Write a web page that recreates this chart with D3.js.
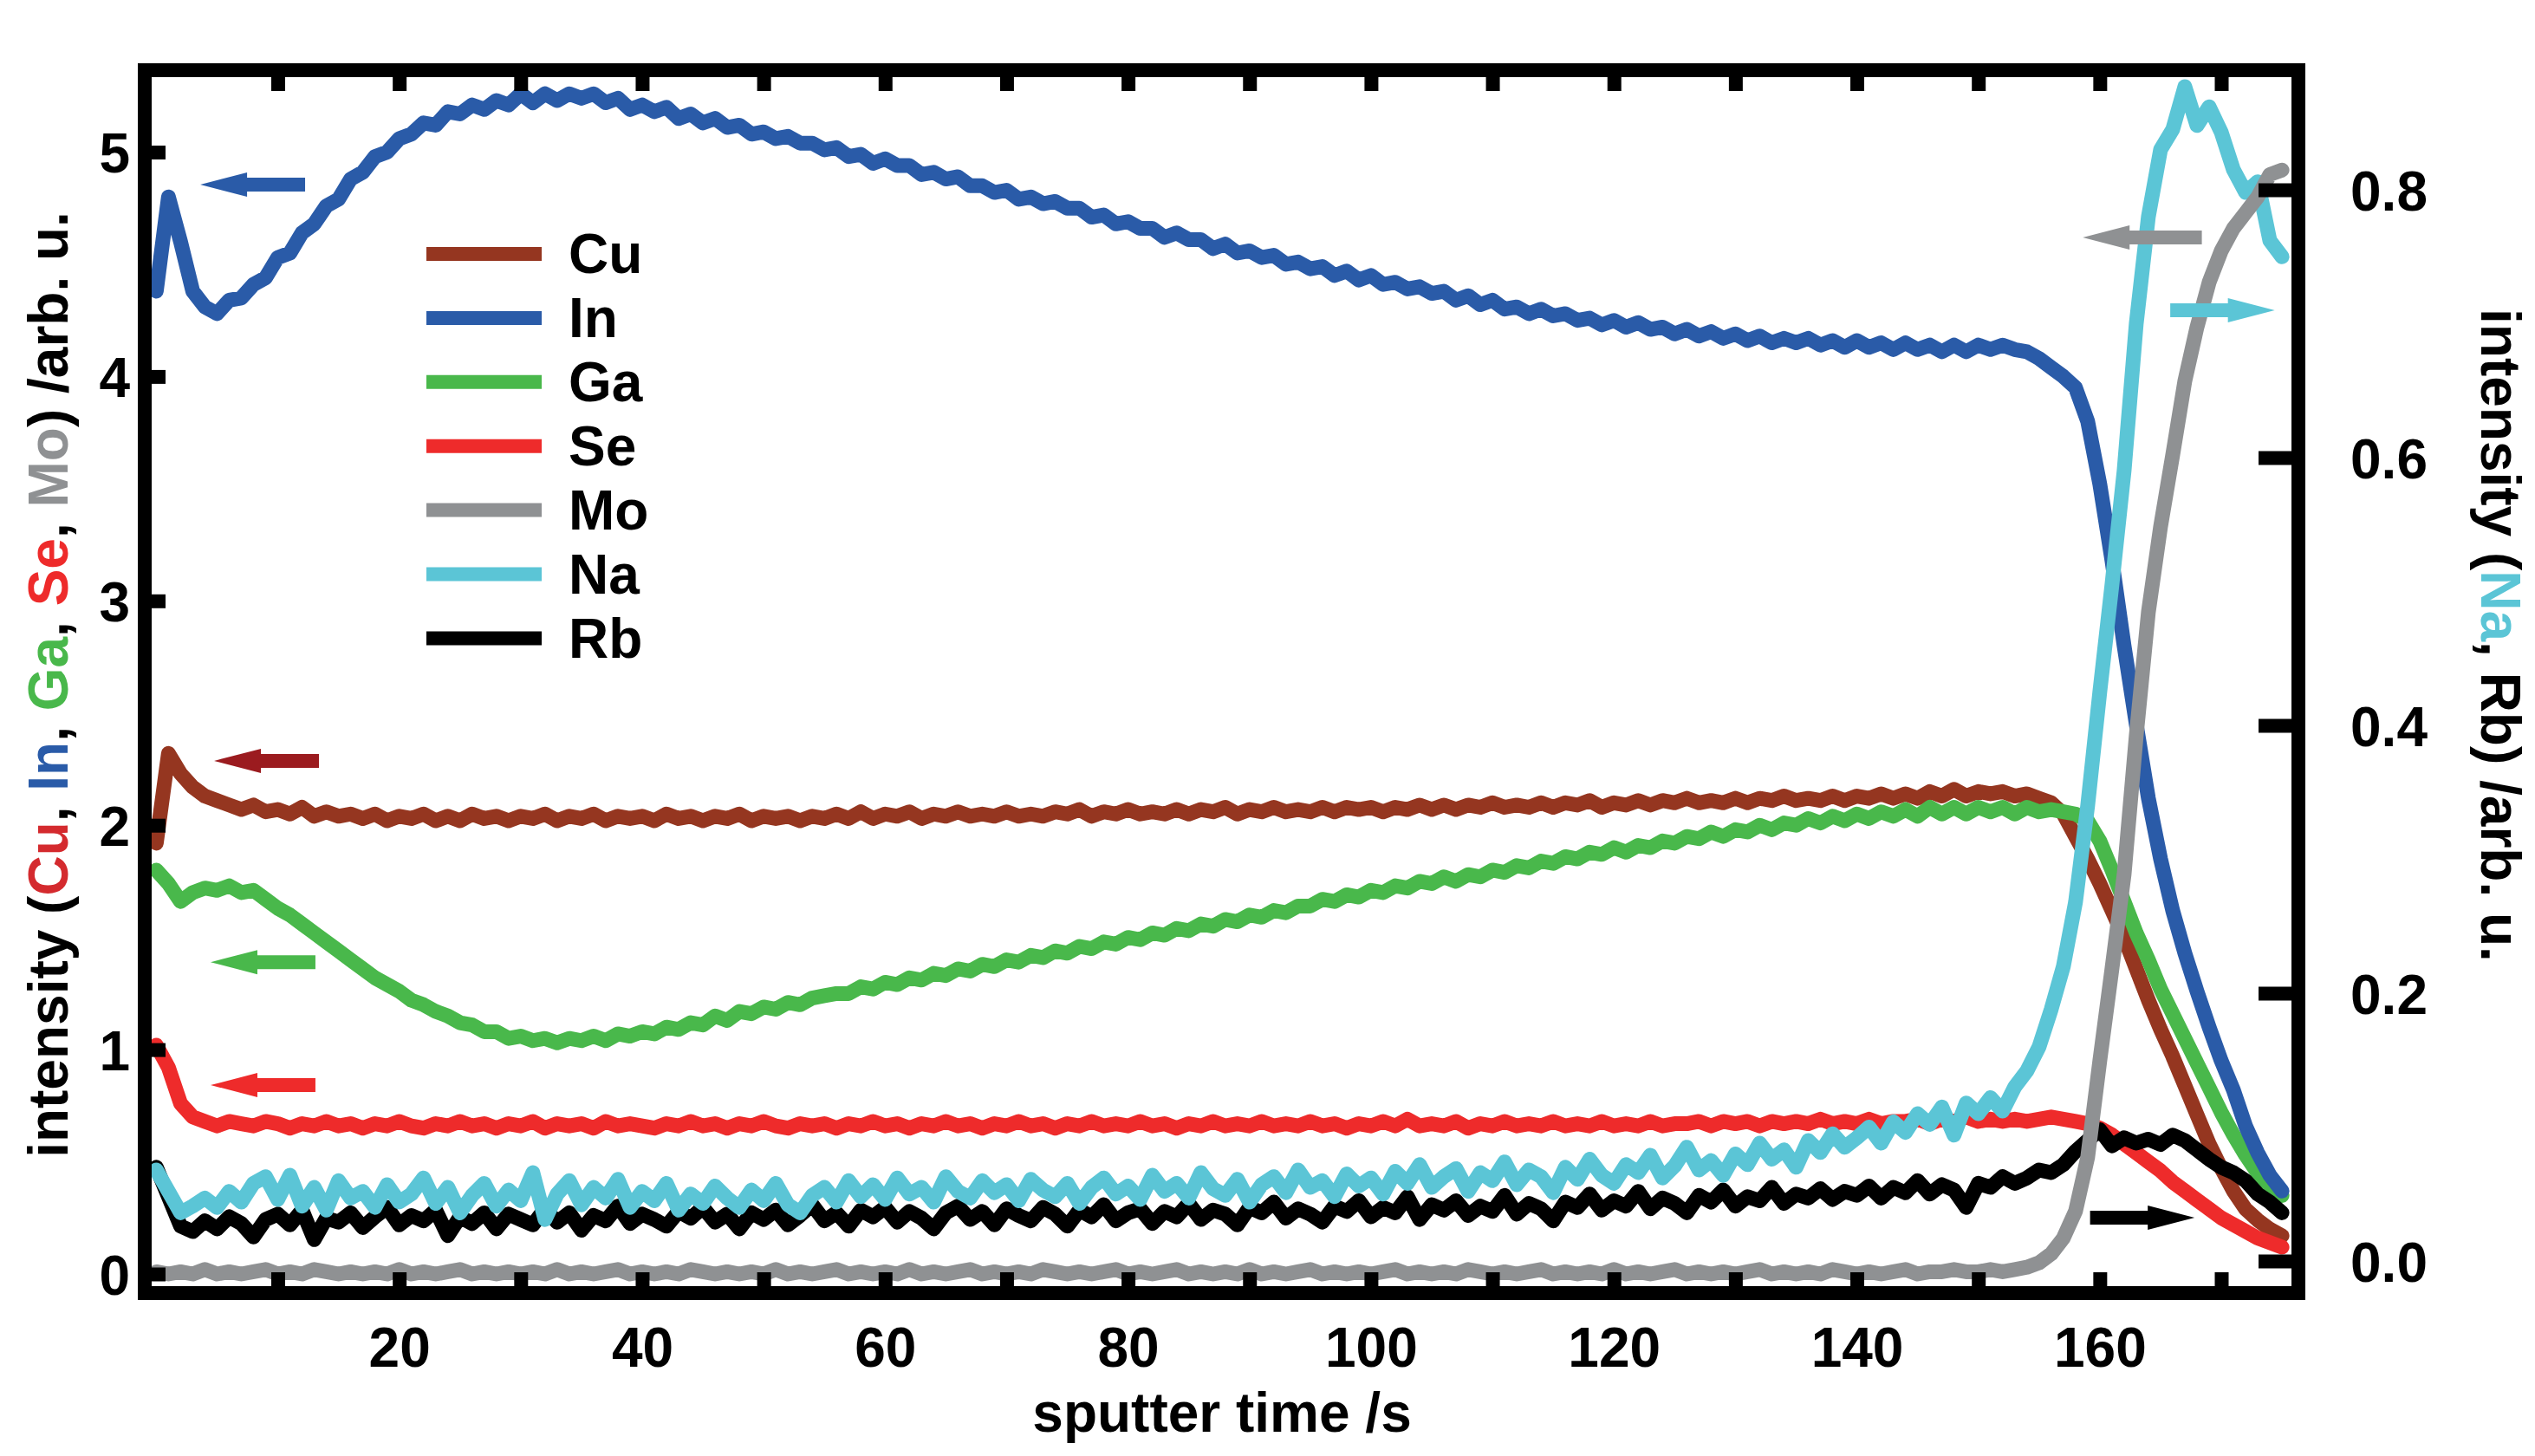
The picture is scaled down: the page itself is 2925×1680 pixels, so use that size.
<!DOCTYPE html>
<html><head><meta charset="utf-8">
<script src="https://cdn.jsdelivr.net/npm/d3@7"></script>
<style>
html,body{margin:0;padding:0;background:#fff;}
svg{display:block;}
text{font-family:"Liberation Sans",Arial,Helvetica,sans-serif;font-weight:bold;white-space:pre;}
</style>
</head><body>
<svg id="chart" width="2925" height="1680"></svg>
<script>
// ---------------- data ----------------
const sputterTime = d3.range(0, 176); // s, 1 s sampling

const cu = [1.92,2.32,2.23,2.17,2.13,2.11,2.09,2.07,2.09,2.06,
2.07,2.05,2.08,2.04,2.06,2.04,2.05,2.03,2.05,2.02,
2.04,2.03,2.05,2.02,2.04,2.02,2.05,2.03,2.04,2.02,
2.04,2.03,2.05,2.02,2.04,2.03,2.05,2.02,2.04,2.03,
2.04,2.02,2.05,2.03,2.04,2.02,2.04,2.03,2.05,2.02,
2.04,2.03,2.04,2.02,2.04,2.03,2.05,2.03,2.06,2.03,
2.05,2.04,2.06,2.03,2.05,2.04,2.06,2.04,2.05,2.04,
2.06,2.04,2.05,2.04,2.06,2.05,2.07,2.04,2.06,2.05,
2.07,2.05,2.06,2.05,2.07,2.05,2.07,2.06,2.08,2.05,
2.07,2.06,2.08,2.06,2.07,2.06,2.08,2.06,2.08,2.07,
2.08,2.06,2.08,2.07,2.09,2.07,2.09,2.07,2.09,2.08,
2.10,2.08,2.09,2.08,2.10,2.08,2.10,2.09,2.11,2.08,
2.10,2.09,2.11,2.09,2.11,2.10,2.12,2.10,2.11,2.10,
2.12,2.10,2.12,2.11,2.13,2.11,2.12,2.11,2.13,2.11,
2.13,2.12,2.14,2.12,2.14,2.12,2.15,2.13,2.16,2.13,
2.15,2.14,2.15,2.13,2.14,2.12,2.10,2.05,1.95,1.85,
1.74,1.62,1.50,1.36,1.22,1.09,0.97,0.84,0.71,0.58,
0.47,0.37,0.29,0.24,0.20,0.17];

const indium = [4.38,4.80,4.60,4.38,4.31,4.28,4.34,4.35,4.41,4.44,
4.53,4.55,4.64,4.68,4.76,4.79,4.88,4.91,4.98,5.00,
5.06,5.08,5.13,5.12,5.18,5.17,5.21,5.19,5.23,5.21,
5.26,5.22,5.26,5.23,5.26,5.24,5.26,5.22,5.24,5.19,
5.21,5.18,5.20,5.15,5.17,5.13,5.15,5.11,5.12,5.08,
5.09,5.06,5.07,5.04,5.04,5.01,5.02,4.98,4.99,4.95,
4.97,4.94,4.94,4.90,4.91,4.88,4.89,4.85,4.85,4.82,
4.83,4.79,4.80,4.77,4.78,4.75,4.75,4.71,4.72,4.68,
4.69,4.66,4.66,4.62,4.64,4.61,4.61,4.57,4.59,4.55,
4.56,4.53,4.54,4.50,4.51,4.48,4.49,4.45,4.47,4.43,
4.45,4.41,4.42,4.39,4.40,4.37,4.38,4.34,4.36,4.32,
4.34,4.30,4.31,4.28,4.30,4.27,4.28,4.25,4.26,4.23,
4.25,4.22,4.24,4.21,4.22,4.19,4.21,4.18,4.20,4.17,
4.19,4.16,4.18,4.15,4.17,4.15,4.17,4.14,4.16,4.13,
4.16,4.13,4.15,4.12,4.15,4.12,4.14,4.11,4.14,4.11,
4.14,4.12,4.14,4.12,4.11,4.08,4.04,4.00,3.95,3.80,
3.52,3.18,2.80,2.45,2.12,1.85,1.62,1.43,1.26,1.10,
0.95,0.82,0.66,0.54,0.44,0.37];

const ga = [1.80,1.74,1.66,1.70,1.72,1.71,1.73,1.70,1.71,1.67,
1.63,1.60,1.56,1.52,1.48,1.44,1.40,1.36,1.32,1.29,
1.26,1.22,1.20,1.17,1.15,1.12,1.11,1.08,1.08,1.05,
1.06,1.04,1.05,1.03,1.05,1.04,1.06,1.04,1.07,1.06,
1.08,1.07,1.10,1.09,1.12,1.11,1.15,1.13,1.17,1.16,
1.19,1.18,1.21,1.20,1.23,1.24,1.25,1.25,1.28,1.27,
1.30,1.29,1.32,1.31,1.34,1.33,1.36,1.35,1.38,1.37,
1.40,1.39,1.42,1.41,1.44,1.43,1.46,1.45,1.48,1.47,
1.50,1.49,1.52,1.51,1.54,1.53,1.56,1.55,1.58,1.57,
1.60,1.59,1.62,1.61,1.64,1.64,1.67,1.66,1.69,1.68,
1.71,1.70,1.73,1.72,1.75,1.74,1.77,1.75,1.78,1.77,
1.80,1.79,1.82,1.81,1.84,1.83,1.86,1.85,1.88,1.87,
1.90,1.88,1.91,1.90,1.93,1.92,1.95,1.94,1.97,1.95,
1.98,1.97,2.00,1.98,2.01,2.00,2.03,2.01,2.04,2.02,
2.05,2.03,2.06,2.04,2.07,2.04,2.08,2.05,2.08,2.05,
2.08,2.06,2.08,2.05,2.08,2.06,2.07,2.06,2.05,2.02,
1.93,1.80,1.66,1.52,1.40,1.27,1.16,1.05,0.94,0.83,
0.72,0.62,0.53,0.45,0.39,0.35];

const se = [1.02,0.92,0.76,0.70,0.68,0.66,0.68,0.67,0.66,0.68,
0.67,0.65,0.67,0.66,0.68,0.66,0.67,0.65,0.67,0.66,
0.68,0.66,0.65,0.67,0.66,0.68,0.66,0.67,0.65,0.67,
0.66,0.68,0.65,0.67,0.66,0.67,0.65,0.68,0.66,0.67,
0.66,0.65,0.67,0.66,0.68,0.66,0.67,0.65,0.67,0.66,
0.68,0.66,0.65,0.67,0.66,0.67,0.65,0.67,0.66,0.68,
0.66,0.67,0.65,0.67,0.66,0.68,0.66,0.67,0.65,0.67,
0.66,0.68,0.66,0.67,0.65,0.67,0.66,0.68,0.66,0.67,
0.66,0.68,0.66,0.67,0.65,0.67,0.66,0.68,0.66,0.67,
0.66,0.68,0.66,0.67,0.66,0.68,0.66,0.67,0.65,0.67,
0.66,0.68,0.66,0.69,0.66,0.67,0.66,0.68,0.65,0.67,
0.66,0.68,0.66,0.67,0.66,0.68,0.66,0.67,0.66,0.68,
0.66,0.67,0.66,0.68,0.66,0.67,0.67,0.68,0.66,0.68,
0.67,0.68,0.66,0.68,0.67,0.68,0.67,0.69,0.67,0.68,
0.67,0.69,0.67,0.68,0.68,0.69,0.67,0.69,0.68,0.70,
0.68,0.69,0.68,0.69,0.68,0.69,0.70,0.69,0.68,0.67,
0.65,0.62,0.58,0.54,0.50,0.46,0.41,0.37,0.33,0.29,
0.25,0.22,0.19,0.16,0.14,0.12];

const mo = [0.01,0.00,0.01,0.00,0.02,0.00,0.01,0.00,0.01,0.02,
0.00,0.01,0.00,0.02,0.01,0.00,0.01,0.00,0.01,0.00,
0.02,0.00,0.01,0.00,0.01,0.02,0.00,0.01,0.00,0.01,
0.00,0.01,0.00,0.02,0.00,0.01,0.00,0.01,0.02,0.00,
0.01,0.00,0.01,0.00,0.02,0.01,0.00,0.01,0.00,0.01,
0.00,0.02,0.00,0.01,0.00,0.01,0.02,0.00,0.01,0.00,
0.01,0.00,0.02,0.00,0.01,0.00,0.01,0.02,0.00,0.01,
0.00,0.01,0.00,0.02,0.01,0.00,0.01,0.00,0.01,0.02,
0.00,0.01,0.00,0.01,0.02,0.00,0.01,0.00,0.01,0.00,
0.02,0.00,0.01,0.00,0.01,0.02,0.00,0.01,0.00,0.01,
0.00,0.01,0.02,0.00,0.01,0.00,0.01,0.00,0.02,0.01,
0.00,0.01,0.00,0.01,0.02,0.00,0.01,0.00,0.01,0.00,
0.02,0.00,0.01,0.00,0.01,0.02,0.00,0.01,0.00,0.01,
0.00,0.01,0.02,0.00,0.01,0.00,0.01,0.00,0.02,0.01,
0.00,0.01,0.00,0.01,0.02,0.00,0.01,0.01,0.02,0.01,
0.01,0.02,0.01,0.02,0.03,0.05,0.09,0.16,0.28,0.52,
0.95,1.36,1.78,2.40,2.95,3.33,3.65,3.98,4.22,4.42,
4.56,4.66,4.73,4.80,4.90,4.92];

const na = [0.068,0.052,0.036,0.041,0.047,0.040,0.052,0.044,0.058,0.063,
0.046,0.064,0.041,0.055,0.038,0.060,0.047,0.052,0.040,0.057,
0.044,0.050,0.062,0.043,0.055,0.036,0.049,0.058,0.041,0.053,
0.045,0.066,0.031,0.050,0.060,0.042,0.055,0.047,0.061,0.040,
0.052,0.045,0.058,0.038,0.050,0.043,0.056,0.047,0.040,0.053,
0.045,0.058,0.042,0.036,0.049,0.055,0.044,0.060,0.048,0.057,
0.046,0.062,0.050,0.055,0.044,0.063,0.052,0.047,0.060,0.051,
0.057,0.045,0.061,0.053,0.048,0.058,0.043,0.055,0.062,0.050,
0.056,0.046,0.064,0.052,0.058,0.047,0.066,0.054,0.049,0.061,
0.044,0.057,0.063,0.051,0.068,0.055,0.060,0.048,0.065,0.056,
0.062,0.050,0.067,0.058,0.072,0.055,0.063,0.069,0.052,0.066,
0.060,0.074,0.057,0.068,0.063,0.051,0.070,0.061,0.076,0.064,
0.058,0.072,0.066,0.079,0.062,0.071,0.085,0.068,0.075,0.064,
0.080,0.072,0.088,0.076,0.083,0.070,0.090,0.081,0.095,0.085,
0.092,0.100,0.088,0.104,0.096,0.110,0.102,0.115,0.094,0.118,
0.110,0.122,0.112,0.130,0.142,0.160,0.188,0.220,0.268,0.340,
0.425,0.505,0.590,0.700,0.780,0.830,0.845,0.877,0.848,0.862,
0.843,0.815,0.798,0.806,0.762,0.750];

const rb = [0.070,0.048,0.026,0.022,0.030,0.024,0.033,0.028,0.018,0.031,
0.035,0.027,0.038,0.016,0.032,0.029,0.036,0.025,0.033,0.040,
0.027,0.034,0.030,0.038,0.019,0.033,0.028,0.036,0.024,0.035,
0.031,0.027,0.039,0.029,0.036,0.023,0.034,0.030,0.041,0.028,
0.035,0.031,0.026,0.037,0.032,0.040,0.029,0.035,0.024,0.036,
0.031,0.038,0.027,0.034,0.042,0.030,0.036,0.026,0.038,0.033,
0.040,0.029,0.037,0.032,0.024,0.036,0.041,0.031,0.037,0.027,
0.039,0.034,0.030,0.040,0.035,0.026,0.038,0.033,0.042,0.030,
0.036,0.039,0.028,0.037,0.033,0.043,0.031,0.038,0.035,0.027,
0.040,0.036,0.044,0.032,0.039,0.035,0.029,0.041,0.037,0.045,
0.033,0.040,0.036,0.048,0.031,0.042,0.038,0.045,0.034,0.041,
0.037,0.049,0.035,0.043,0.039,0.030,0.044,0.040,0.050,0.038,
0.045,0.041,0.052,0.039,0.047,0.043,0.036,0.049,0.044,0.053,
0.041,0.048,0.045,0.055,0.043,0.050,0.047,0.054,0.046,0.052,
0.049,0.056,0.047,0.055,0.051,0.060,0.050,0.057,0.053,0.040,
0.058,0.055,0.063,0.058,0.062,0.068,0.066,0.072,0.082,0.090,
0.098,0.086,0.092,0.088,0.091,0.087,0.094,0.090,0.083,0.076,
0.070,0.066,0.060,0.050,0.044,0.036];

const seriesNames  = ["Cu", "In", "Ga", "Se", "Mo", "Na", "Rb"];
const seriesValues = [cu, indium, ga, se, mo, na, rb];
const seriesAxis   = ["left", "left", "left", "left", "left", "right", "right"];
const seriesColors = ["#953620", "#2a5ba8", "#49b84b", "#ee2b2b", "#8f9193", "#5bc5d6", "#000000"];
const drawOrder    = ["Cu", "Ga", "In", "Se", "Rb", "Na", "Mo"];

const xTicks      = [10,20,30,40,50,60,70,80,90,100,110,120,130,140,150,160,170];
const xTickLabels = [20,40,60,80,100,120,140,160];
const yLeftTicks  = [0,1,2,3,4,5];
const yRightTicks = [0,0.2,0.4,0.6,0.8];

// annotation arrows
const arrowNames = ["In", "Cu", "Ga", "Se", "Mo", "Na", "Rb"];
const arrowTail  = [12.25, 13.39, 13.1, 13.1, 168.4, 165.8, 159.2];
const arrowTip   = [3.62, 4.76, 4.47, 4.47, 158.6, 174.4, 167.8];
const arrowValue = [4.855, 2.287, 1.39, 0.842, 4.62, 0.710, 0.0324];
const arrowAxis  = ["left","left","left","left","left","right","right"];
const arrowColors = ["#2a5ba8", "#9b1b1f", "#49b84b", "#ee2b2b", "#8f9193", "#5bc5d6", "#000000"];

const leftTitleParts  = [["intensity (", "#000"], ["Cu", "#d42a2e"], [", ", "#000"], ["In", "#2a5ba8"], [", ", "#000"], ["Ga", "#49b84b"], [", ", "#000"], ["Se", "#ee2b2b"], [", ", "#000"], ["Mo", "#8f9193"], [") /arb. u.", "#000"]];
const rightTitleParts = [["intensity (", "#000"], ["Na", "#5bc5d6"], [", Rb) /arb. u.", "#000"]];
const xTitle = "sputter time /s";

// ---------------- layout ----------------
const svg = d3.select("#chart");
const inner = {left: 175, right: 2644, top: 89, bottom: 1484};
const frameW = 16;
const fontSize = 64;

const x = d3.scaleLinear().domain([10, 170]).range([320.5, 2563]);
const yL = d3.scaleLinear().domain([0, 5]).range([1470, 175.5]);
const yR = d3.scaleLinear().domain([0, 0.8]).range([1455, 219]);

svg.append("rect").attr("width", 2925).attr("height", 1680).attr("fill", "#fff");

// ---------------- data lines ----------------
const gLines = svg.append("g");
drawOrder.forEach(name => {
  const i = seriesNames.indexOf(name);
  const vals = seriesValues[i];
  const yS = seriesAxis[i] === "left" ? yL : yR;
  const n = Math.min(vals.length, sputterTime.length);
  const pts = d3.range(n).map(k => [sputterTime[k], vals[k]]);
  const line = d3.line().x(d => x(d[0])).y(d => yS(d[1]));
  gLines.append("path")
    .attr("d", line(pts))
    .attr("fill", "none")
    .attr("stroke", seriesColors[i])
    .attr("stroke-width", 17)
    .attr("stroke-linejoin", "round")
    .attr("stroke-linecap", "round");
});

// ---------------- arrows ----------------
const gArr = svg.append("g");
arrowNames.forEach((nm, i) => {
  const yS = arrowAxis[i] === "left" ? yL : yR;
  const x1 = x(arrowTail[i]), x2 = x(arrowTip[i]), yy = yS(arrowValue[i]);
  const dir = Math.sign(x2 - x1);
  const headLen = 54, headHalf = 14, shaftHalf = 8;
  const xb = x2 - dir * headLen;
  const pts = [[x1, yy - shaftHalf], [xb, yy - shaftHalf], [xb, yy - headHalf], [x2, yy],
               [xb, yy + headHalf], [xb, yy + shaftHalf], [x1, yy + shaftHalf]];
  gArr.append("polygon").attr("points", pts.map(p => p.join(",")).join(" ")).attr("fill", arrowColors[i]);
});

// ---------------- axes ----------------
function styleAxis(g) {
  g.select(".domain").remove();
  g.selectAll(".tick line").attr("stroke", "#000").attr("stroke-width", 16).attr("stroke-linecap", "butt");
  g.selectAll(".tick text").attr("fill", "#000").attr("font-size", fontSize)
    .attr("font-family", "'Liberation Sans', Arial, Helvetica, sans-serif").attr("font-weight", "bold");
}

svg.append("g").attr("transform", `translate(0,${inner.bottom})`)
  .call(d3.axisBottom(x).tickValues(xTicks).tickSize(-16).tickPadding(48)
    .tickFormat(d => xTickLabels.includes(d) ? String(d) : ""))
  .call(styleAxis);

svg.append("g").attr("transform", `translate(0,${inner.top})`)
  .call(d3.axisTop(x).tickValues(xTicks).tickSize(-16).tickFormat(() => ""))
  .call(styleAxis);

svg.append("g").attr("transform", `translate(${inner.left},0)`)
  .call(d3.axisLeft(yL).tickValues(yLeftTicks).tickSize(-16).tickPadding(25).tickFormat(d3.format("d")))
  .call(styleAxis)
  .call(g => g.selectAll(".tick text").attr("dy", "0.36em"));

svg.append("g").attr("transform", `translate(${inner.right},0)`)
  .call(d3.axisRight(yR).tickValues(yRightTicks).tickSize(-38).tickPadding(68).tickFormat(d3.format(".1f")))
  .call(styleAxis)
  .call(g => g.selectAll(".tick text").attr("dy", "0.36em"));

// frame
svg.append("rect")
  .attr("x", inner.left - frameW / 2).attr("y", inner.top - frameW / 2)
  .attr("width", inner.right - inner.left + frameW).attr("height", inner.bottom - inner.top + frameW)
  .attr("fill", "none").attr("stroke", "#000").attr("stroke-width", frameW);

// ---------------- titles ----------------
svg.append("text").attr("x", 1410).attr("y", 1652).attr("text-anchor", "middle")
  .attr("font-size", fontSize).attr("fill", "#000").text(xTitle);

const lt = svg.append("text").attr("transform", "translate(78,790) rotate(-90)")
  .attr("text-anchor", "middle").attr("font-size", fontSize);
leftTitleParts.forEach(p => lt.append("tspan").attr("fill", p[1]).text(p[0]));

const rt = svg.append("text").attr("transform", "translate(2863,356) rotate(90)")
  .attr("text-anchor", "start").attr("font-size", fontSize);
rightTitleParts.forEach(p => rt.append("tspan").attr("fill", p[1]).text(p[0]));

// ---------------- legend ----------------
const legend = svg.append("g");
seriesNames.forEach((nm, i) => {
  const yy = 293 + i * 73.9;
  legend.append("line").attr("x1", 492).attr("x2", 625).attr("y1", yy).attr("y2", yy)
    .attr("stroke", seriesColors[i]).attr("stroke-width", 16);
  legend.append("text").attr("x", 656).attr("y", yy).attr("dy", "0.35em")
    .attr("font-size", fontSize).attr("fill", "#000").text(nm);
});
</script>
</body></html>
